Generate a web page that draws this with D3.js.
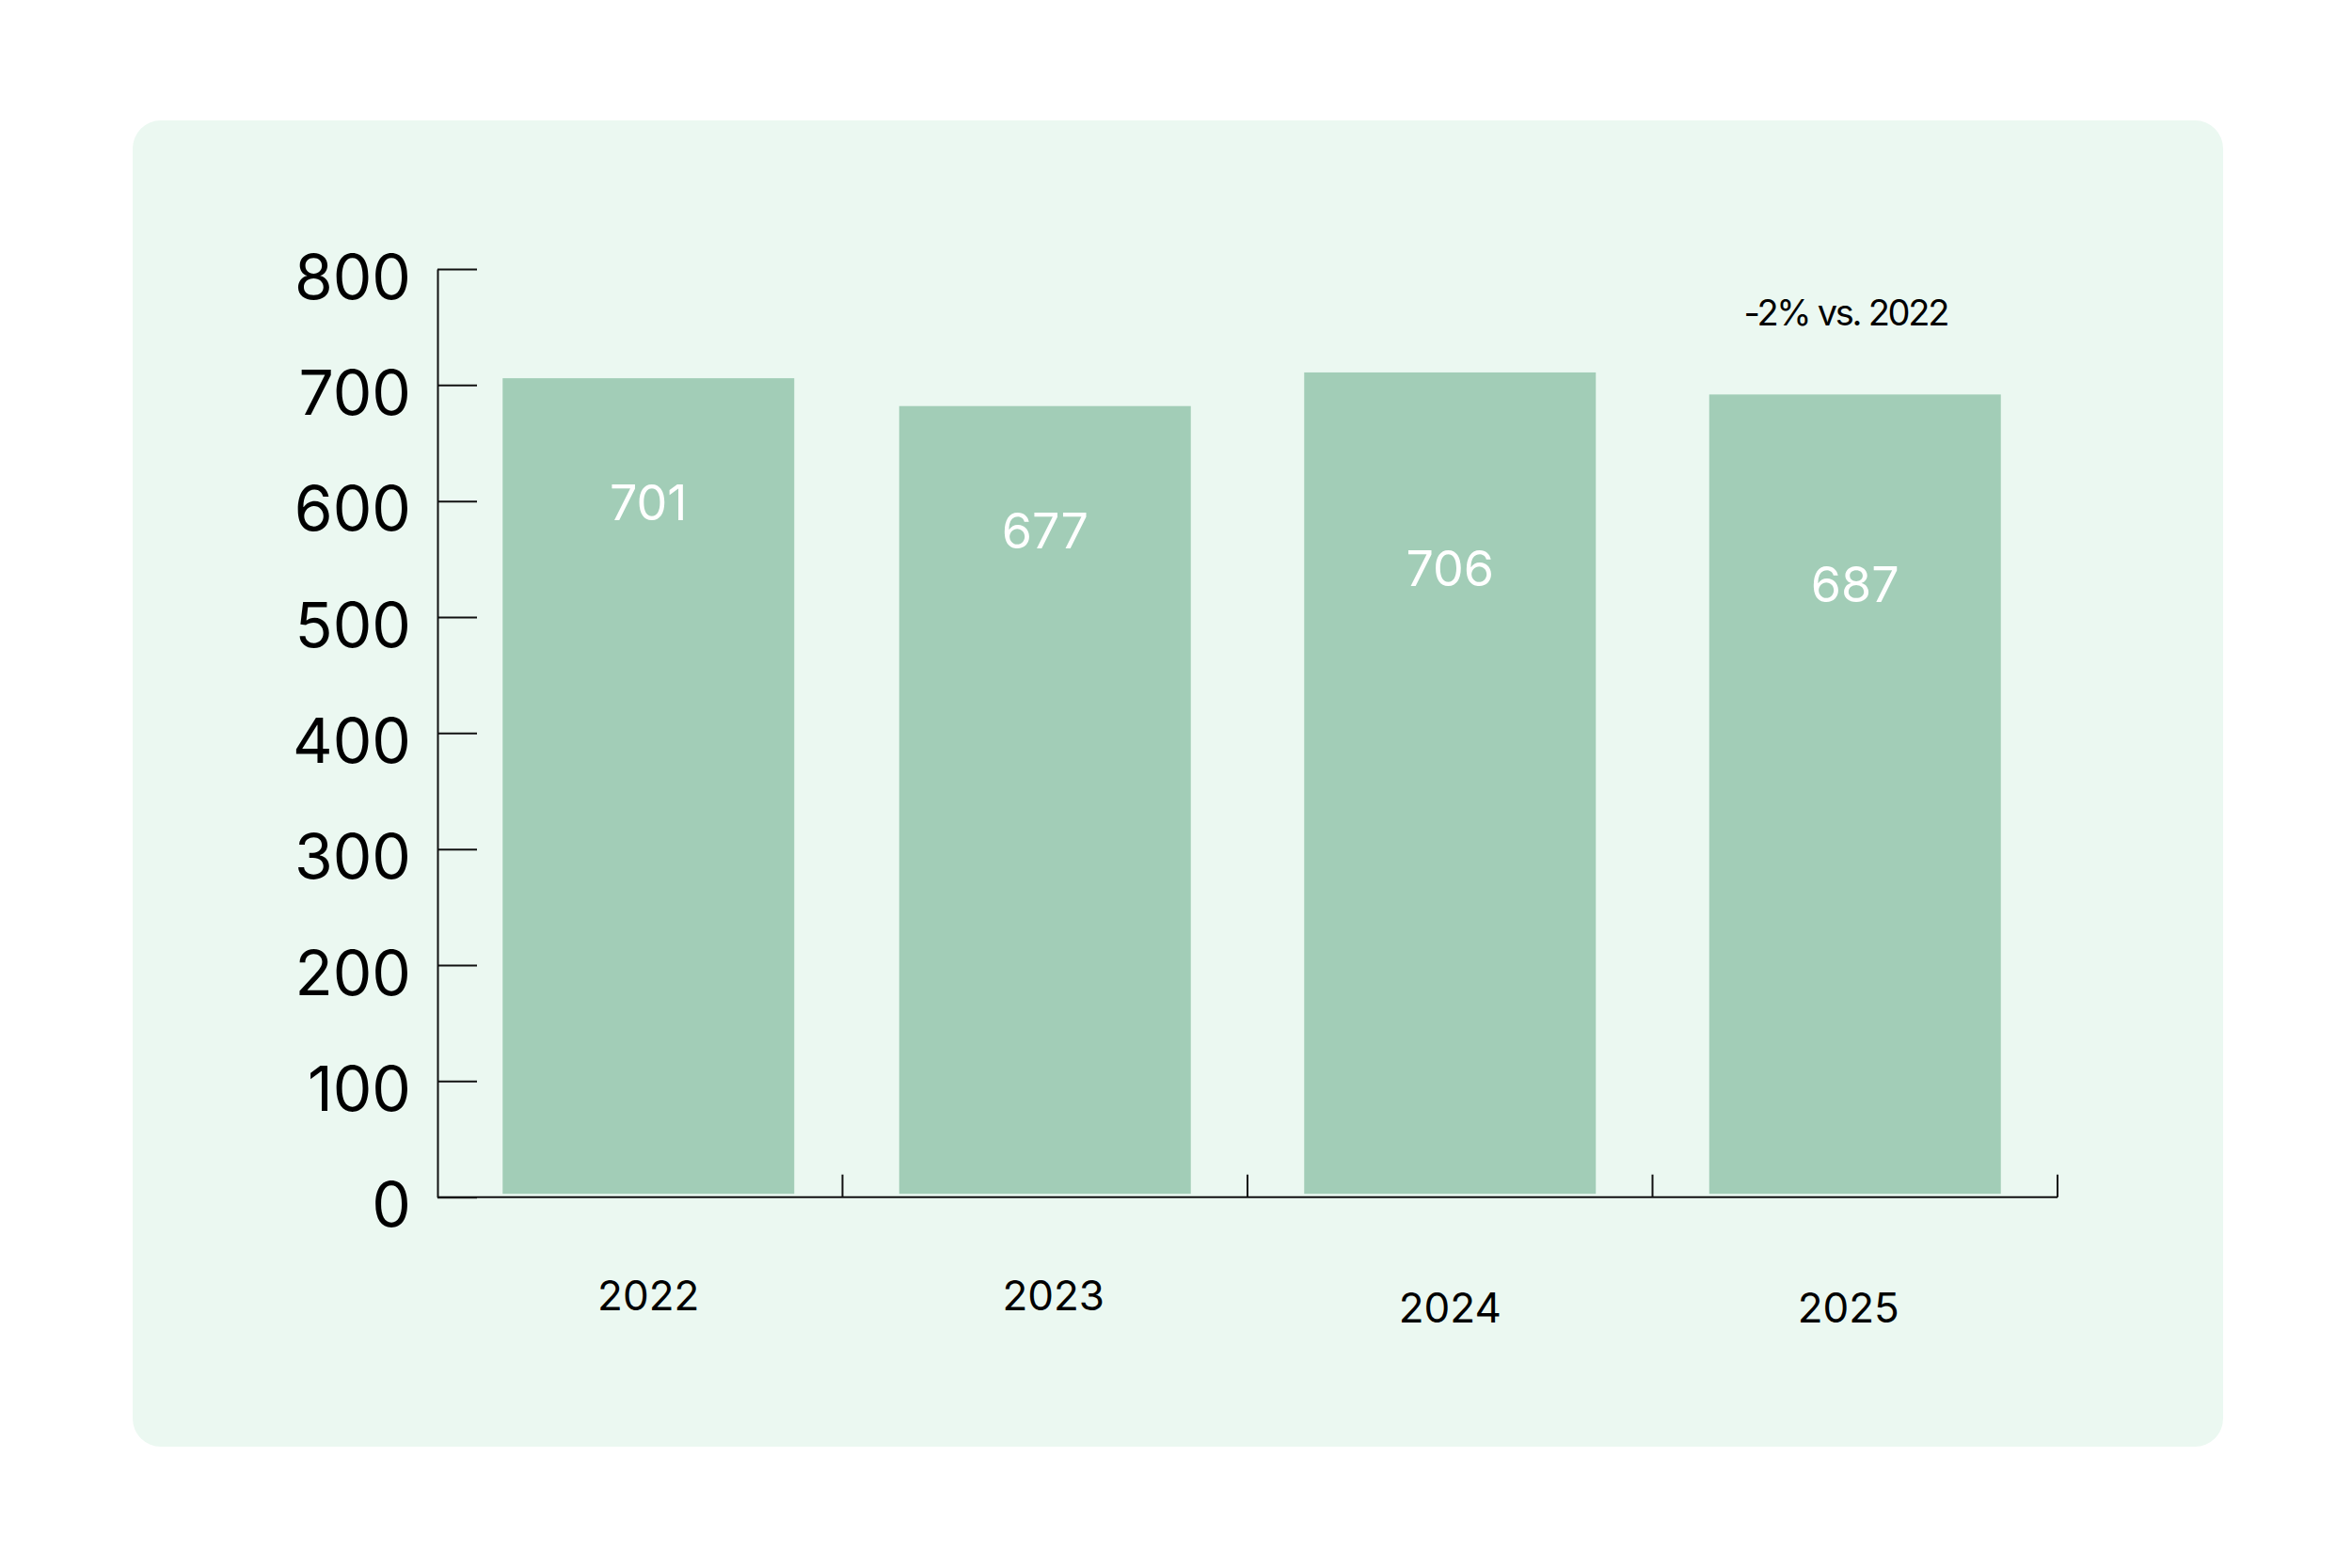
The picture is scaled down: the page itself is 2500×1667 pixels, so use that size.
<!DOCTYPE html>
<html>
<head>
<meta charset="utf-8">
<script src="https://cdn.jsdelivr.net/npm/d3@7"></script>
<style>
  html, body { margin: 0; padding: 0; background: #ffffff; }
  svg { display: block; font-family: Inter, "Noto Sans", sans-serif; }
</style>
</head>
<body>
<div id="chart"></div>
<script>
// data
var years = ["2022", "2023", "2024", "2025"];
var values = [701, 677, 706, 687];
var yTicks = [0, 100, 200, 300, 400, 500, 600, 700, 800];
var note = "-2% vs. 2022";

// the original was laid out by hand, these small nudges follow it
var valueLabelDrop = [145, 145, 221, 215];
var yearLabelDrop = [0, 0, 13, 13];
var barNudge = [9, 0, 0, 0];
var yearNudge = [9, 9, 0, -7];

var w = 2500,
    h = 1667;

var svg = d3.select("#chart")
  .append("svg")
  .attr("width", w)
  .attr("height", h);

// background card
svg.append("rect")
  .attr("x", 141)
  .attr("y", 128)
  .attr("width", 2222)
  .attr("height", 1410)
  .attr("rx", 30)
  .attr("fill", "#ebf8f1");

var x = d3.scaleBand()
  .domain(years)
  .range([465, 2187])
  .paddingInner(0.28)
  .paddingOuter(0.14);

var y = d3.scaleLinear()
  .domain([0, 800])
  .range([1272.7, 286]);

// bars
svg.selectAll("rect.bar")
  .data(values)
  .enter()
  .append("rect")
  .attr("class", "bar")
  .attr("x", function(d, i) { return x(years[i]) + barNudge[i]; })
  .attr("y", function(d) { return y(d) - 6; })
  .attr("width", x.bandwidth())
  .attr("height", function(d) { return (y(0) - 3.5) - (y(d) - 6); })
  .attr("fill", "#a2cdb7");

// value labels
svg.selectAll("text.val")
  .data(values)
  .enter()
  .append("text")
  .attr("class", "val")
  .attr("x", function(d, i) { return x(years[i]) + x.bandwidth() / 2 + barNudge[i]; })
  .attr("y", function(d, i) { return y(d) + valueLabelDrop[i]; })
  .attr("text-anchor", "middle")
  .attr("font-size", 52)
  .attr("fill", "#ffffff")
  .text(function(d) { return d; });

// y axis
var yAxis = d3.axisLeft(y)
  .tickValues(yTicks)
  .tickSizeInner(-42)
  .tickSizeOuter(0)
  .tickPadding(28);

var gy = svg.append("g")
  .attr("transform", "translate(465,0)")
  .call(yAxis);

gy.select(".domain").attr("stroke", "#111").attr("stroke-width", 2);
gy.selectAll(".tick line").attr("stroke", "#111").attr("stroke-width", 2);
gy.selectAll(".tick text")
  .attr("font-family", "Inter, sans-serif")
  .attr("font-size", 66)
  .attr("fill", "#000")
  .attr("dy", "0.47em");

// x axis baseline with boundary ticks
svg.append("line")
  .attr("x1", x.range()[0])
  .attr("x2", x.range()[1])
  .attr("y1", y(0))
  .attr("y2", y(0))
  .attr("stroke", "#111")
  .attr("stroke-width", 2);

var bounds = d3.range(1, years.length + 1).map(function(i) {
  return x.range()[0] + i * x.step();
});

svg.selectAll("line.xtick")
  .data(bounds)
  .enter()
  .append("line")
  .attr("class", "xtick")
  .attr("x1", function(d) { return d; })
  .attr("x2", function(d) { return d; })
  .attr("y1", y(0))
  .attr("y2", y(0) - 24)
  .attr("stroke", "#111")
  .attr("stroke-width", 2);

// year labels
svg.selectAll("text.year")
  .data(years)
  .enter()
  .append("text")
  .attr("class", "year")
  .attr("x", function(d, i) { return x(d) + x.bandwidth() / 2 + yearNudge[i]; })
  .attr("y", function(d, i) { return y(0) + 120 + yearLabelDrop[i]; })
  .attr("text-anchor", "middle")
  .attr("font-size", 44)
  .attr("fill", "#000")
  .text(function(d) { return d; });

// note above last bar
svg.append("text")
  .attr("x", x("2025") + x.bandwidth() / 2 - 10)
  .attr("y", y(800) + 60)
  .attr("text-anchor", "middle")
  .attr("font-size", 38)
  .attr("letter-spacing", "-0.06em")
  .attr("fill", "#000")
  .text(note);
</script>
</body>
</html>
